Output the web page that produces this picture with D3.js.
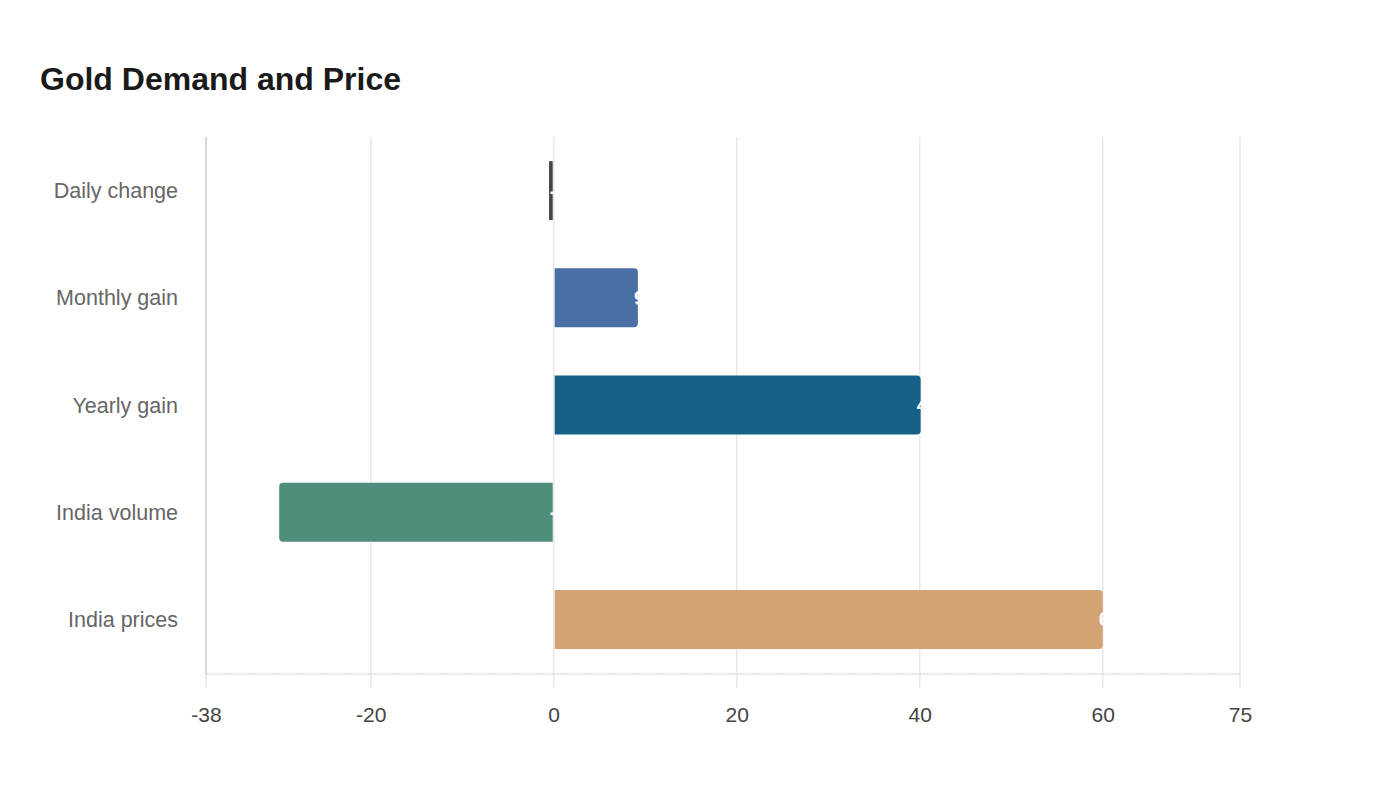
<!DOCTYPE html>
<html><head><meta charset="utf-8">
<script src="https://cdn.jsdelivr.net/npm/d3@7"></script>
<style>body{margin:0;background:#fff;font-family:"Liberation Sans",Arial,sans-serif;}</style>
</head><body><svg id="c" width="1400" height="800"></svg>
<script>
const categories = ["Daily change","Monthly gain","Yearly gain","India volume","India prices"];
const values = [-0.4, 9.2, 40.1, -30.0, 60.0];
const colors = ["#444444","#4a6fa5","#176087","#4e8c7b","#d4a373"];
const tickValues = [-38,-20,0,20,40,60,75];
const domainX = [-38,75];

const FONT = "'Liberation Sans',Arial,sans-serif";
const svg = d3.select("#c");
const m = {left:206, right:1240, top:137, bottom:673};
const x = d3.scaleLinear().domain(domainX).range([m.left, m.right]);
const y = d3.scaleBand().domain(categories).range([m.top, m.bottom]).paddingInner(0.45).paddingOuter(0.225);

svg.append("text").attr("x",40).attr("y",90).attr("font-size",32).attr("font-weight","bold")
  .attr("font-family",FONT).attr("fill","#1a1a1a").text("Gold Demand and Price");

// grid lines
svg.append("g").selectAll("line").data(tickValues).join("line")
  .attr("x1",d=>x(d)).attr("x2",d=>x(d)).attr("y1",m.top).attr("y2",688)
  .attr("stroke","#e8e8e8").attr("stroke-width",1.5);

// bottom axis line
svg.append("line").attr("x1",m.left).attr("x2",m.right).attr("y1",674).attr("y2",674)
  .attr("stroke","#d8d8d8").attr("stroke-width",1.5).attr("stroke-dasharray","2,1");
// left axis
svg.append("line").attr("x1",m.left).attr("x2",m.left).attr("y1",m.top).attr("y2",674)
  .attr("stroke","#d0d0d0").attr("stroke-width",1.5);

// x tick labels
const xAxis = d3.axisBottom(x).tickValues(tickValues).tickSize(0).tickPadding(0).tickFormat(d=>String(d));
const gx = svg.append("g").attr("transform","translate(0,722)").call(xAxis);
gx.select(".domain").remove();
gx.selectAll("text").attr("font-size",21).attr("fill","#444").attr("dy",0)
  .attr("font-family",FONT);

// y labels
const yAxis = d3.axisLeft(y).tickSize(0).tickPadding(0);
const gy = svg.append("g").attr("transform","translate(178,0)").call(yAxis);
gy.select(".domain").remove();
gy.selectAll("text").attr("font-size",21.5).attr("fill","#666").attr("dy","0.35em")
  .attr("font-family",FONT);

// bars with rounded far end
const r = 4;
function barPath(v, cat){
  const x0 = x(0), x1 = x(v), y0 = y(cat), h = y.bandwidth();
  if (Math.abs(x1-x0) < 2*r) {
    const w = Math.max(Math.abs(x1-x0),3);
    return `M${x0-1},${y0}H${x0-1-w}V${y0+h}H${x0-1}Z`;
  }
  const s = v >= 0 ? 1 : -1;
  const xs = x0 + s;
  return `M${xs},${y0}H${x1 - s*r}Q${x1},${y0} ${x1},${y0+r}V${y0+h-r}Q${x1},${y0+h} ${x1 - s*r},${y0+h}H${xs}Z`;
}
const data = categories.map((c,i)=>({c, v:values[i], col:colors[i]}));
svg.append("g").selectAll("path").data(data).join("path")
  .attr("d",d=>barPath(d.v,d.c)).attr("fill",d=>d.col);

// value labels (white, mostly invisible beyond the bar)
svg.append("g").selectAll("text").data(data).join("text")
  .attr("x",d=>Math.max(x(d.v),x(0)) - 4).attr("y",d=>y(d.c)+y.bandwidth()/2)
  .attr("dy","0.35em").attr("font-size",20).attr("font-weight","bold").attr("fill","#fff")
  .attr("font-family",FONT)
  .text(d=>d.v);
</script></body></html>
